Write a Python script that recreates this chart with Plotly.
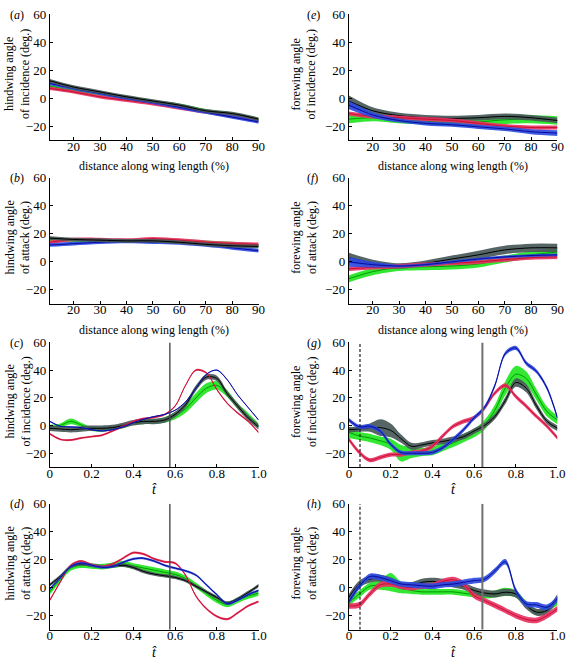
import plotly.graph_objects as go

# ---------------- data ----------------
DIST = [11, 20, 30, 40, 50, 60, 70, 80, 90]
T = [0, 0.05, 0.1, 0.15, 0.2, 0.25, 0.3, 0.35, 0.4, 0.45, 0.5,
     0.55, 0.6, 0.65, 0.7, 0.75, 0.8, 0.85, 0.9, 0.95, 1.0]

DIST_TICKS = [20, 30, 40, 50, 60, 70, 80, 90]
T_TICKS = [0, 0.2, 0.4, 0.6, 0.8, 1.0]
T_TICK_TEXT = ["0", "0.2", "0.4", "0.6", "0.8", "1.0"]
Y_TICKS = [-20, 0, 20, 40, 60]

HIND_TRANSITION = 0.575
FORE_TRANSITION = 0.64
FORE_DASH = 0.053

# (a) hindwing angle of incidence vs distance
A_BLACK = [12.5, 8, 4.5, 1, -2, -5, -9, -11, -15]
A_GREEN = [8.5, 5.5, 3, 0.5, -2.5, -5, -9, -11.5, -15]
A_BLUE = [10.5, 7, 3.5, 0, -3, -6.5, -10, -13.5, -17]
A_RED = [7, 4.5, 1, -1.5, -4, -7, -10, -13, -16]
A_W = 1.2

# (b) hindwing angle of attack vs distance
B_BLACK = [17, 16, 15.5, 15, 15, 14, 12.5, 11.5, 11]
B_GREEN = [16, 15.5, 15, 15, 15.5, 15, 14, 13, 11.5]
B_BLUE = [12, 13, 14, 14.5, 14, 13.5, 12, 10, 8]
B_RED = [14, 16, 16, 15.5, 16.5, 15.5, 14, 13, 12.5]
B_W = 1.3

# (e) forewing angle of incidence vs distance
E_BLACK = [-2, -9, -12.5, -14, -14.5, -14, -13, -14, -16]
E_BLACK_W = [4, 2.5, 2, 2, 2, 2, 2, 2, 2]
E_GREEN = [-15, -14, -15.5, -16.5, -17.5, -17, -15.5, -15, -16]
E_GREEN_W = [3, 2.5, 2.5, 2.5, 2.5, 3, 3, 3, 3]
E_BLUE = [-5, -12, -16, -18, -19, -20.5, -22, -24, -25]
E_BLUE_W = [3, 2, 1.5, 1.5, 1.5, 1.5, 1.5, 1.8, 2]
E_RED = [-11, -13, -14, -15, -16, -18, -20, -21, -21]
E_RED_W = 1.5

# (f) forewing angle of attack vs distance
F_BLACK = [3, -1, -3, -1, 2, 5, 8.5, 10, 10]
F_BLACK_W = [3.5, 2.5, 2, 2, 2.5, 3, 3, 3, 3]
F_GREEN = [-12, -7, -4, -3.5, -3, -1.5, 2, 5, 7]
F_GREEN_W = 2.5
F_BLUE = [0, -2, -3, -2, 0, 2, 3.5, 4.5, 5]
F_BLUE_W = [3.5, 2, 1, 1, 1, 1, 1, 1, 1]
F_RED = [-5, -4, -3, -2, -1, 0, 1.5, 3, 3.5]
F_RED_W = 1.5

# (c) hindwing angle of incidence vs t-hat
C_BLACK = [-2, -2.5, -3, -2.5, -2, -2, -1.5, 0, 2, 3, 3, 4, 8, 15, 27, 35,
           34, 23, 14, 5.5, -1]
C_BLACK_W = 2
C_GREEN = [-1, 0, 3, 0.5, -2.5, -3, -2, -0.5, 2, 2.5, 3, 4, 7, 12, 20, 27,
           29, 23, 14, 7, 0]
C_GREEN_W = [1.5, 1.5, 2, 1.5, 1.5, 1.5, 1.5, 1.5, 1.5, 1.5, 1.5, 2, 2.5,
             3, 3.5, 3.5, 3, 2.5, 2, 2, 1.5]
C_BLUE = [3, -0.5, -1, -1.5, -3, -4, -3, -1, 2, 4.5, 6.5, 8, 11, 17, 27, 37,
          40, 33, 22, 13, 4]
C_BLUE_W = 0.4
C_RED = [-6, -10, -10.5, -9, -8, -7, -4, -0.5, 3, 5, 6, 8, 14, 29, 40, 38,
         26, 16, 9, 3, -5]
C_RED_W = 0.7

# (d) hindwing angle of attack vs t-hat
D_BLACK = [2, 8, 15, 17, 16, 15, 15.5, 16, 14.4, 11.5, 9.7, 8.5, 7.3, 5,
           1, -3, -7, -11, -8, -3.5, 1.5]
D_BLACK_W = 1.2
D_GREEN = [-3, 6, 14, 16, 15.5, 15, 16, 17, 15.5, 14, 12.5, 11, 9.5, 6.5,
           1.5, -4, -9, -12, -9, -6, -4]
D_GREEN_W = 2
D_BLUE = [-1, 7, 15, 17.5, 16, 14.5, 15, 18, 20.5, 21, 19, 16, 14, 12, 9,
          2, -5, -11.5, -9, -5, -2]
D_BLUE_W = 0.8
D_RED = [-9, 4, 16, 19, 16.5, 15, 17, 21, 25, 24, 20.5, 18.5, 17.5, 9, -6,
         -15, -20.5, -22.5, -18, -13, -10]
D_RED_W = 0.8

# (g) forewing angle of incidence vs t-hat
G_BLACK = [-3, -2.5, -1.5, -1.5, -3.5, -9.5, -15, -14, -12.5, -11.5, -10,
           -8, -4, 0, 6.5, 18, 31, 27, 14, 3, -2]
G_BLACK_W = [2, 2, 3, 6, 5, 3, 2.5, 2, 2, 2, 2, 2, 2, 2, 2, 2.5, 3, 3, 2.5,
             2, 2]
G_GREEN = [-5, -7.5, -9, -11, -13.5, -20, -19.5, -19, -18.5, -15.5, -12.5,
           -9, -5.5, 0.5, 11, 27, 37, 34, 22, 10, 4]
G_GREEN_W = [4, 3, 3, 3, 4, 6, 4, 3, 3, 3, 3, 3, 3, 3.5, 4, 5, 6, 5, 4, 3.5,
             3]
G_BLUE = [4, -1, -0.5, -4, -13.5, -19.5, -20, -20, -19.5, -16, -10, -3, 5.5,
          13, 29, 52, 56, 45, 39, 27, 5.5]
G_BLUE_W = 1.5
G_RED = [-10, -19.5, -25, -23, -21, -21, -19.5, -18.5, -15, -7.5, -0.5, 3,
         5.5, 12.5, 23.5, 29, 21, 14, 6.5, -0.5, -9]
G_RED_W = 1.5

# (h) forewing angle of attack vs t-hat
H_BLACK = [-7, 2.6, 6, 6.8, 5, 1.4, 1.4, 3.8, 4.5, 3.8, 2.6, 1, -2, -3.8,
           -4.5, -3.3, -4.5, -12.7, -17.5, -16.3, -7]
H_BLACK_W = 2.5
H_GREEN = [-10.5, -4.5, 1, 2, 4, 0, -2, -3, -3, -3, -3, -4, -5, -5.7, -4.5,
           -3, -4.5, -11.5, -17.5, -15, -10.5]
H_GREEN_W = [2.5, 2.5, 2.5, 3.5, 6.5, 4, 2.5, 2, 2, 2, 2, 2, 2, 2, 2.5, 3,
             2.5, 2, 2, 2, 2]
H_BLUE = [-10, 1, 8, 7.3, 5, 2.6, 2, 1.4, 1, 2, 2.6, 3.8, 5, 6, 12, 18.5,
          -2, -11.6, -12.3, -14, -8]
H_BLUE_W = 2
H_RED = [-13, -12.3, -4.5, 2, 2.6, 1, 0, 1, 1.4, 4.3, 5.7, 2.6, -5.7, -9.2,
         -12.7, -16.3, -20, -22.7, -23.4, -20, -15]
H_RED_W = 2

# ---------------- styles ----------------
STYLE = {
    "black": dict(band="rgba(72,88,88,0.92)", line="#000000"),
    "green": dict(band="rgba(40,230,40,0.95)", line="#009a00"),
    "blue": dict(band="rgba(45,75,225,0.92)", line="#0a0a9a"),
    "red": dict(band="rgba(232,50,100,0.92)", line="#c8102e"),
}
FONT = "Liberation Serif"
W, H = 574, 661

# pixel geometry of the axes boxes
COL_X = [(47.7, 260.6), (352.7, 565.3)]
ROW_Y = [(7.5, 134.5), (172.7, 300), (339, 465), (502, 629.3)]

fig = go.Figure()


def add_series(x, y, w, key, ax_idx, lw=1.0):
    ws = w if isinstance(w, list) else [w] * len(y)
    lo = [a - b for a, b in zip(y, ws)]
    hi = [a + b for a, b in zip(y, ws)]
    xa, ya = f"x{ax_idx}", f"y{ax_idx}"
    st = STYLE[key]
    fig.add_trace(go.Scatter(x=x, y=lo, mode="lines", xaxis=xa, yaxis=ya,
                             line=dict(width=0, shape="spline", smoothing=0.9),
                             showlegend=False, hoverinfo="skip"))
    fig.add_trace(go.Scatter(x=x, y=hi, mode="lines", xaxis=xa, yaxis=ya,
                             fill="tonexty", fillcolor=st["band"],
                             line=dict(width=0, shape="spline", smoothing=0.9),
                             showlegend=False, hoverinfo="skip"))
    fig.add_trace(go.Scatter(x=x, y=y, mode="lines", xaxis=xa, yaxis=ya,
                             line=dict(width=lw, color=st["line"],
                                       shape="spline", smoothing=0.9),
                             showlegend=False, hoverinfo="skip"))


panels = [
    (1, 0, 0, DIST, [("green", A_GREEN, A_W), ("red", A_RED, A_W),
                     ("blue", A_BLUE, A_W), ("black", A_BLACK, A_W)],
     "a", "hindwing angle<br>of incidence (deg.)", "dist"),
    (2, 0, 1, DIST, [("green", B_GREEN, B_W), ("red", B_RED, B_W),
                     ("blue", B_BLUE, B_W), ("black", B_BLACK, B_W)],
     "b", "hindwing angle<br>of attack (deg.)", "dist"),
    (3, 0, 2, T, [("green", C_GREEN, C_GREEN_W), ("black", C_BLACK, C_BLACK_W),
                  ("red", C_RED, C_RED_W), ("blue", C_BLUE, C_BLUE_W)],
     "c", "hindwing angle<br>of incidence (deg.)", "hind"),
    (4, 0, 3, T, [("green", D_GREEN, D_GREEN_W), ("black", D_BLACK, D_BLACK_W),
                  ("red", D_RED, D_RED_W), ("blue", D_BLUE, D_BLUE_W)],
     "d", "hindwing angle<br>of attack (deg.)", "hind"),
    (5, 1, 0, DIST, [("green", E_GREEN, E_GREEN_W), ("black", E_BLACK, E_BLACK_W),
                     ("red", E_RED, E_RED_W), ("blue", E_BLUE, E_BLUE_W)],
     "e", "forewing angle<br>of incidence (deg.)", "dist"),
    (6, 1, 1, DIST, [("green", F_GREEN, F_GREEN_W), ("black", F_BLACK, F_BLACK_W),
                     ("red", F_RED, F_RED_W), ("blue", F_BLUE, F_BLUE_W)],
     "f", "forewing angle<br>of attack (deg.)", "dist"),
    (7, 1, 2, T, [("green", G_GREEN, G_GREEN_W), ("black", G_BLACK, G_BLACK_W),
                  ("red", G_RED, G_RED_W), ("blue", G_BLUE, G_BLUE_W)],
     "g", "forewing angle<br>of incidence (deg.)", "fore"),
    (8, 1, 3, T, [("green", H_GREEN, H_GREEN_W), ("black", H_BLACK, H_BLACK_W),
                  ("red", H_RED, H_RED_W), ("blue", H_BLUE, H_BLUE_W)],
     "h", "forewing angle<br>of attack (deg.)", "fore"),
]

layout = dict(width=W, height=H, autosize=False,
              margin=dict(l=0, r=0, t=0, b=0, pad=0),
              paper_bgcolor="white", plot_bgcolor="white",
              font=dict(family=FONT, size=12, color="black"),
              showlegend=False)
annotations = []
shapes = []

for idx, col, row, xd, series, letter, ytitle, kind in panels:
    x0, x1 = COL_X[col]
    y0, y1 = ROW_Y[row]
    dom_x = [x0 / W, x1 / W]
    dom_y = [1 - y1 / H, 1 - y0 / H]
    sfx = "" if idx == 1 else str(idx)
    common = dict(showline=True, linecolor="black", linewidth=1,
                  ticks="inside", ticklen=3, tickcolor="black",
                  showgrid=False, zeroline=False,
                  ticklabeloverflow="allow",
                  tickfont=dict(family=FONT, size=13, color="black"))
    if kind == "dist":
        xa = dict(domain=dom_x, range=[11, 90], tickvals=DIST_TICKS,
                  anchor=f"y{sfx}", ticklabelstandoff=-6, **common)
        xtitle = "distance along wing length (%)"
    else:
        xa = dict(domain=dom_x, range=[0, 1], tickvals=T_TICKS,
                  ticktext=T_TICK_TEXT, anchor=f"y{sfx}",
                  ticklabelstandoff=-6, **common)
        xtitle = "<i>t̂</i>"
    ya = dict(domain=dom_y, range=[-30, 60], tickvals=Y_TICKS,
              anchor=f"x{sfx}", **common)
    layout[f"xaxis{sfx}"] = xa
    layout[f"yaxis{sfx}"] = ya

    for key, ys, w in series:
        add_series(xd, ys, w, key, idx)

    if kind == "hind":
        shapes.append(dict(type="line", xref=f"x{sfx}", yref=f"y{sfx}",
                           x0=HIND_TRANSITION, x1=HIND_TRANSITION, y0=-30, y1=60,
                           line=dict(color="#4a4a4a", width=1.4)))
    if kind == "fore":
        shapes.append(dict(type="line", xref=f"x{sfx}", yref=f"y{sfx}",
                           x0=FORE_TRANSITION, x1=FORE_TRANSITION, y0=-30, y1=60,
                           line=dict(color="#707070", width=2)))
        shapes.append(dict(type="line", xref=f"x{sfx}", yref=f"y{sfx}",
                           x0=FORE_DASH, x1=FORE_DASH, y0=-30, y1=60,
                           line=dict(color="#222222", width=1.2, dash="3px,2px")))

    lx = 5 if col == 0 else 308
    annotations.append(dict(text=f"(<i>{letter}</i>)", xref="paper", yref="paper",
                            x=lx / W, y=1 - (y0 + 0.5) / H, xanchor="left",
                            yanchor="middle", showarrow=False,
                            font=dict(family=FONT, size=12)))
    tx = 15 if col == 0 else 307
    annotations.append(dict(text=ytitle, xref="paper", yref="paper",
                            x=tx / W, y=1 - ((y0 + y1) / 2 - 3) / H,
                            xanchor="center", yanchor="middle", textangle=-90,
                            showarrow=False,
                            font=dict(family=FONT, size=12)))
    if kind == "dist":
        annotations.append(dict(text=xtitle, xref="paper", yref="paper",
                                x=(x0 + x1) / 2 / W, y=1 - (y1 + 26) / H,
                                xanchor="center", yanchor="middle",
                                showarrow=False,
                                font=dict(family=FONT, size=12)))
    else:
        annotations.append(dict(text=xtitle, xref="paper", yref="paper",
                                x=(x0 + x1) / 2 / W, y=1 - (y1 + 23) / H,
                                xanchor="center", yanchor="middle",
                                showarrow=False,
                                font=dict(family=FONT, size=14)))

layout["annotations"] = annotations
layout["shapes"] = shapes
fig.update_layout(**layout)
fig.write_html("out.html", config={"displayModeBar": False},
               post_script="document.body.style.margin='0';"
                           "document.body.style.overflow='hidden';")
